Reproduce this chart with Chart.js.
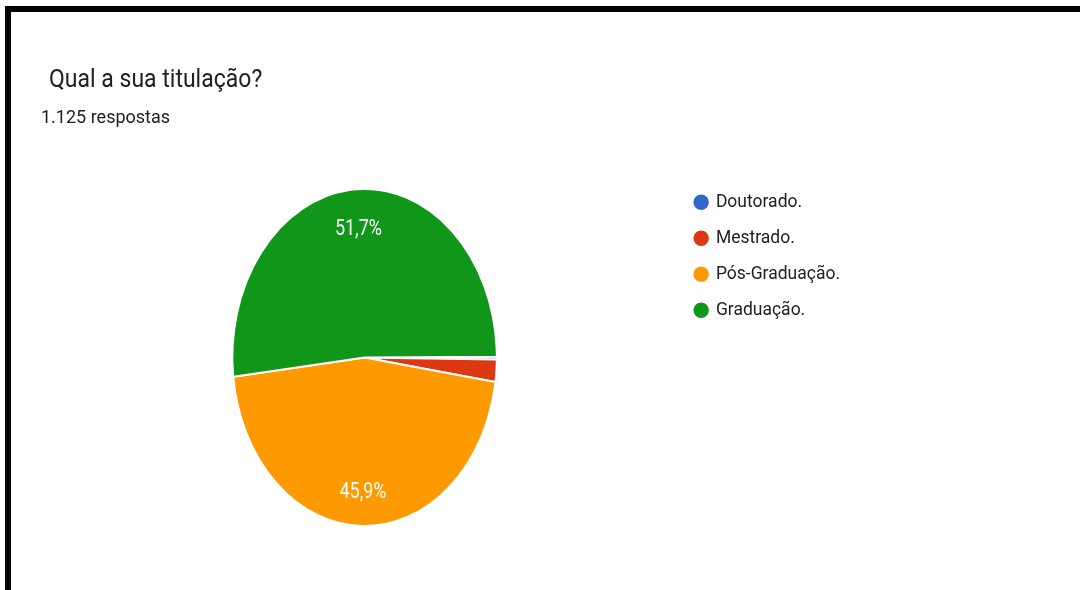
<!DOCTYPE html>
<html lang="pt">
<head>
<meta charset="utf-8">
<script src="https://cdn.jsdelivr.net/npm/chart.js@4/dist/chart.umd.min.js"></script>
<style>
  html, body { margin: 0; padding: 0; background: #ffffff; }
  body { width: 1080px; height: 590px; position: relative; overflow: hidden; font-family: Roboto, "Noto Sans", sans-serif; }
  #frame { position: absolute; left: 5px; top: 6px; width: 1200px; height: 700px; border-left: 6px solid #000; border-top: 6px solid #000; box-sizing: border-box; }
  #title { position: absolute; left: 49px; top: 67.6px; font-size: 23px; line-height: 23px; color: #202124; white-space: nowrap; transform: scaleY(1.1); transform-origin: 0 19px; }
  #subtitle { position: absolute; left: 41px; top: 108.3px; font-size: 18px; line-height: 18px; color: #202124; white-space: nowrap; transform: scaleY(1.05); transform-origin: 0 15px; }
  #wrap { position: absolute; left: 0; top: 0; width: 1080px; height: 590px; }
</style>
</head>
<body>
<div id="frame"></div>
<div id="wrap"><canvas id="c"></canvas></div>
<div id="title">Qual a sua titulação?</div>
<div id="subtitle">1.125 respostas</div>
<script>
// ---- data ----
const categories = ['Doutorado.', 'Mestrado.', 'Pós-Graduação.', 'Graduação.'];
const responses = [3, 24, 516, 582];
const sliceColors = ['#3366cc', '#dc3912', '#ff9900', '#109618'];

const Y_STRETCH = 1.2765;

Chart.defaults.font.family = 'Roboto';

const ellipsePlugin = {
  id: 'ellipsePie',
  beforeDatasetsDraw(chart) {
    const arc = chart.getDatasetMeta(0).data[0];
    const ctx = chart.ctx;
    ctx.save();
    ctx.translate(arc.x, arc.y);
    ctx.scale(1, Y_STRETCH);
    ctx.translate(-arc.x, -arc.y);
  },
  afterDatasetsDraw(chart) {
    const ctx = chart.ctx;
    const meta = chart.getDatasetMeta(0);
    const total = responses.reduce((a, b) => a + b, 0);
    meta.data.forEach((arc, i) => {
      const pct = responses[i] / total * 100;
      if (pct < 5) return;
      const mid = (arc.startAngle + arc.endAngle) / 2;
      const r = arc.outerRadius * 0.78;
      const x = arc.x + Math.cos(mid) * r;
      const y = arc.y + Math.sin(mid) * r + 3 / Y_STRETCH;
      ctx.fillStyle = '#ffffff';
      ctx.font = '18px Roboto';
      ctx.textAlign = 'center';
      ctx.textBaseline = 'middle';
      ctx.fillText(pct.toFixed(1).replace('.', ',') + '%', x, y);
    });
    ctx.restore();
  }
};

new Chart(document.getElementById('c'), {
  type: 'pie',
  data: {
    labels: categories,
    datasets: [{
      data: responses,
      backgroundColor: sliceColors,
      borderColor: '#ffffff',
      borderWidth: 1.5,
      radius: 132,
      clip: false
    }]
  },
  options: {
    responsive: true,
    maintainAspectRatio: false,
    animation: false,
    events: [],
    rotation: 89.7,
    layout: { padding: { top: 175, bottom: 50, left: 52.5, right: 230 } },
    plugins: {
      tooltip: { enabled: false },
      legend: {
        position: 'right',
        align: 'start',
        labels: {
          usePointStyle: true,
          pointStyle: 'circle',
          boxWidth: 12,
          boxHeight: 12,
          padding: 18.5,
          color: '#222222',
          font: { size: 17.5, family: 'Roboto' }
        }
      }
    }
  },
  plugins: [ellipsePlugin]
});
</script>
</body>
</html>
